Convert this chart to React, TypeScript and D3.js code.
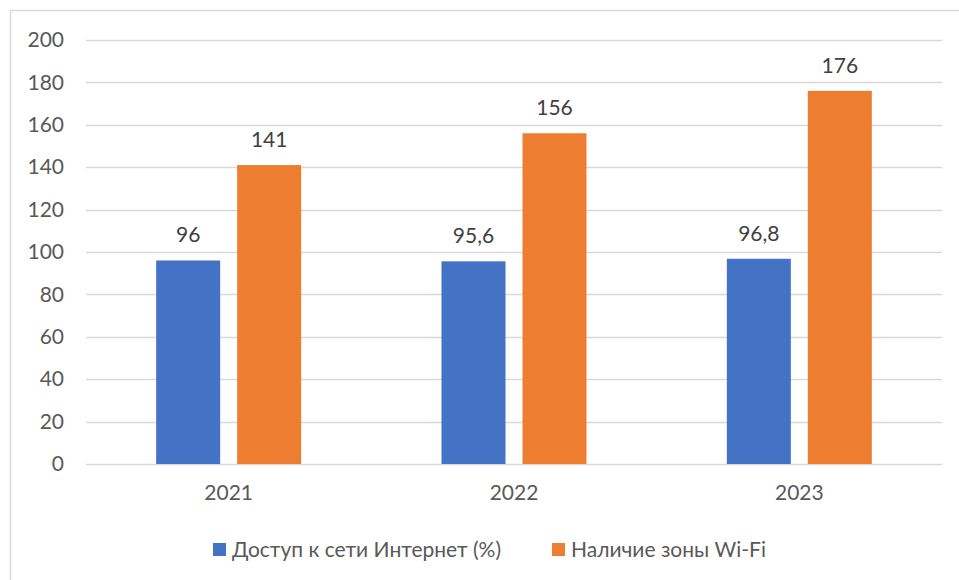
import { useEffect, useRef } from 'react'
import * as d3 from 'd3'

const years = ['2021', '2022', '2023']
const internetAccess = [96, 95.6, 96.8]
const wifiZones = [141, 156, 176]
const seriesNames = ['Доступ к сети Интернет (%)', 'Наличие зоны Wi-Fi']
const seriesColors = ['#4472C4', '#ED7D31']
const yTicks = [0, 20, 40, 60, 80, 100, 120, 140, 160, 180, 200]

const W = 959
const H = 580
const FONT = 'Lato, Carlito, "Open Sans", sans-serif'
const FS = 21

export default function App() {
  const ref = useRef<SVGSVGElement | null>(null)

  useEffect(() => {
    const svg = d3.select(ref.current)
    svg.selectAll('*').remove()

    const margin = { top: 40, right: 17, bottom: 116, left: 86 }
    const width = W - margin.left - margin.right
    const height = H - margin.top - margin.bottom

    // chart frame, only left and top edges show in the picture
    svg.append('rect')
      .attr('x', 10.5).attr('y', 10.5)
      .attr('width', W + 20).attr('height', H + 20)
      .attr('fill', 'white').attr('stroke', '#d9d9d9').attr('stroke-width', 1.5)

    const chart = svg.append('g').attr('transform', `translate(${margin.left},${margin.top})`)

    const x0 = d3.scaleBand().domain(years).range([0, width]).paddingInner(0).paddingOuter(0)
    const y = d3.scaleLinear().domain([0, 200]).range([height, 0])

    // grid
    chart.append('g')
      .selectAll('line')
      .data(yTicks)
      .join('line')
      .attr('x1', 0).attr('x2', width)
      .attr('y1', (d) => Math.round(y(d)) + 0.5).attr('y2', (d) => Math.round(y(d)) + 0.5)
      .attr('stroke', '#d9d9d9').attr('stroke-width', 1.5)

    const yAxis = chart.append('g')
      .call(d3.axisLeft(y).tickValues(yTicks).tickSize(0).tickPadding(22))
    yAxis.select('.domain').remove()
    yAxis.selectAll('text')
      .attr('font-family', FONT).attr('font-size', FS).attr('fill', '#595959')

    const xAxis = chart.append('g')
      .attr('transform', `translate(0,${height})`)
      .call(d3.axisBottom(x0).tickSize(0).tickPadding(21))
    xAxis.select('.domain').remove()
    xAxis.selectAll('text')
      .attr('font-family', FONT).attr('font-size', FS).attr('fill', '#595959')

    const barW = 64
    const gap = 17
    const series = [internetAccess, wifiZones]

    series.forEach((vals, si) => {
      const offset = si === 0 ? -gap / 2 - barW : gap / 2
      const cx = (d: string) => x0(d)! + x0.bandwidth() / 2 + offset
      chart.append('g')
        .selectAll('rect')
        .data(years)
        .join('rect')
        .attr('x', (d) => cx(d))
        .attr('y', (d, i) => y(vals[i]))
        .attr('width', barW)
        .attr('height', (d, i) => height - y(vals[i]))
        .attr('fill', seriesColors[si])

      chart.append('g')
        .selectAll('text')
        .data(years)
        .join('text')
        .attr('x', (d) => cx(d) + barW / 2)
        .attr('y', (d, i) => y(vals[i]) - 18)
        .attr('text-anchor', 'middle')
        .attr('font-family', FONT).attr('font-size', FS).attr('fill', '#404040')
        .text((d, i) => String(vals[i]).replace('.', ','))
    })

    // legend
    const legend = svg.append('g').attr('transform', 'translate(213,543)')
    const items = [{ x: 0 }, { x: 339 }]
    items.forEach((it, i) => {
      const g = legend.append('g').attr('transform', `translate(${it.x},0)`)
      g.append('rect').attr('width', 13).attr('height', 13).attr('fill', seriesColors[i])
      g.append('text')
        .attr('x', 19).attr('y', 14)
        .attr('font-family', FONT).attr('font-size', FS).attr('fill', '#595959')
        .text(seriesNames[i])
    })
  }, [])

  return <svg width={W} height={H} ref={ref} style={{ display: 'block', position: 'absolute', left: 0, top: 0 }} />
}
